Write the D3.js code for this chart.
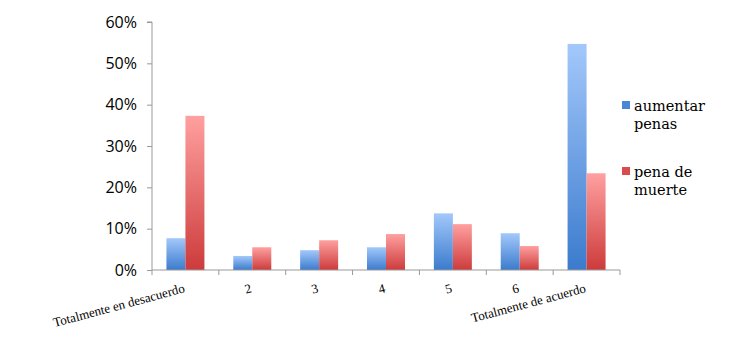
<!DOCTYPE html>
<html>
<head>
<meta charset="utf-8">
<script src="https://cdn.jsdelivr.net/npm/d3@7"></script>
<style>
  body { margin: 0; background: #fff; }
</style>
</head>
<body>
<div class="box"></div>
<script>
// DATA
const categories = ['Totalmente en desacuerdo', '2', '3', '4', '5', '6', 'Totalmente de acuerdo'];
const seriesNames = ['aumentar penas', 'pena de muerte'];
const aumentarPenas = [7.7, 3.4, 4.8, 5.5, 13.7, 8.9, 54.7];
const penaDeMuerte = [37.3, 5.5, 7.2, 8.7, 11.1, 5.8, 23.4];
const yTicks = [0, 10, 20, 30, 40, 50, 60];

const rows = categories.map((c, i) => ({cat: c, values: [aumentarPenas[i], penaDeMuerte[i]]}));

// SETUP
const svg = d3.select('.box')
              .append('svg')
              .attr('width', 732)
              .attr('height', 364)
              .style('background', '#fff');

const margin = {top: 22, left: 152};
const graphWidth = 468;
const graphHeight = 248;

const graph = svg.append('g')
                 .attr('transform', `translate(${margin.left}, ${margin.top})`);

// gradients for the bars
const defs = svg.append('defs');
const grads = [['gBlue', '#a3c8fb', '#3b7bcd'], ['gRed', '#ffa0a0', '#cd3b3b']];
grads.forEach(g => {
  const lg = defs.append('linearGradient')
                 .attr('id', g[0])
                 .attr('x1', 0).attr('y1', 0).attr('x2', 0).attr('y2', 1);
  lg.append('stop').attr('offset', '0%').attr('stop-color', g[1]);
  lg.append('stop').attr('offset', '100%').attr('stop-color', g[2]);
});
const fills = ['url(#gBlue)', 'url(#gRed)'];
const legendFills = ['#4a86d6', '#d94c4c'];

// scales
const y = d3.scaleLinear().domain([0, 60]).range([graphHeight, 0]);
const x = d3.scaleBand().domain(categories).range([0, graphWidth]).padding(0);
const xSub = d3.scaleBand().domain([0, 1]).range([0, x.bandwidth()])
               .paddingInner(0).paddingOuter(0.76);

// bars
const groups = graph.selectAll('g.cat')
                    .data(rows)
                    .enter()
                    .append('g')
                    .attr('transform', d => `translate(${x(d.cat)}, 0)`);

groups.selectAll('rect')
      .data(d => d.values)
      .enter()
      .append('rect')
      .attr('x', (d, i) => xSub(i))
      .attr('y', d => y(d))
      .attr('width', xSub.bandwidth())
      .attr('height', d => graphHeight - y(d))
      .attr('fill', (d, i) => fills[i]);

// y axis
const axeY = d3.axisLeft(y)
               .tickValues(yTicks)
               .tickSize(5)
               .tickPadding(10)
               .tickFormat(d => d + '%');
const groupeY = graph.append('g').call(axeY);
groupeY.select('.domain').attr('stroke', '#999').attr('d', `M-5,0H0V${graphHeight}`);
groupeY.selectAll('.tick line').attr('stroke', '#999');
groupeY.selectAll('.tick text')
       .style('font-family', '"Open Sans", sans-serif')
       .style('font-size', '16px')
       .attr('fill', '#000');

// x axis (ticks at category boundaries)
const groupeX = graph.append('g').attr('transform', `translate(0, ${graphHeight})`);
groupeX.append('line')
       .attr('x1', 0).attr('x2', graphWidth)
       .attr('stroke', '#999');
groupeX.selectAll('line.tk')
       .data(categories.concat(['end']))
       .enter()
       .append('line')
       .attr('x1', (d, i) => i * x.step())
       .attr('x2', (d, i) => i * x.step())
       .attr('y1', 0).attr('y2', 5)
       .attr('stroke', '#999');
groupeX.selectAll('text')
       .data(categories)
       .enter()
       .append('text')
       .text(d => d)
       .attr('transform', d => `translate(${x(d) + x.bandwidth() / 2}, 22) rotate(-15)`)
       .attr('text-anchor', 'end')
       .style('font-family', '"Liberation Serif", serif')
       .style('font-size', '13px')
       .attr('fill', '#000');

// legend
const legend = svg.append('g').attr('transform', 'translate(622, 101)');
const legendLines = [['aumentar', 'penas'], ['pena de', 'muerte']];
seriesNames.forEach((s, i) => {
  const item = legend.append('g').attr('transform', `translate(0, ${i * 66})`);
  item.append('rect')
      .attr('width', 8).attr('height', 8)
      .attr('fill', legendFills[i]);
  const t = item.append('text')
                .attr('x', 12).attr('y', 10)
                .style('font-family', '"DejaVu Serif", serif')
                .style('font-size', '14.5px')
                .attr('fill', '#000');
  legendLines[i].forEach((line, j) => {
    t.append('tspan').attr('x', 12).attr('dy', j === 0 ? 0 : 18).text(line);
  });
});
</script>
</body>
</html>
